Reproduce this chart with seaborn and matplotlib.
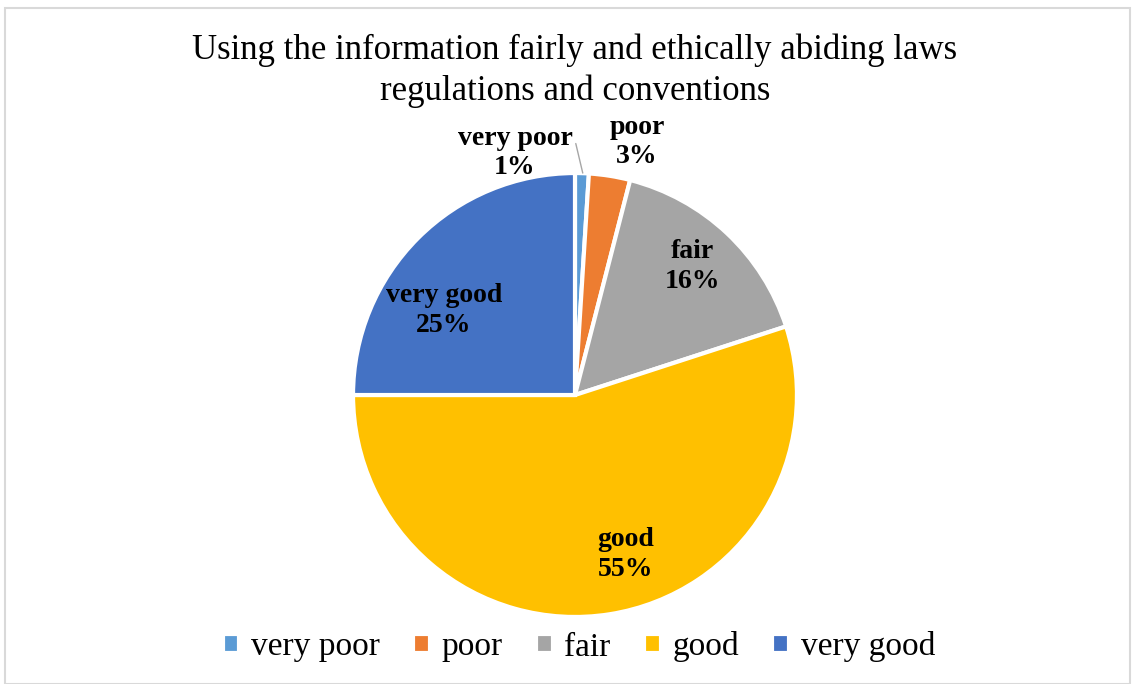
import matplotlib
matplotlib.use("Agg")
import matplotlib.pyplot as plt
import seaborn as sns
from matplotlib.patches import Rectangle

# Survey ratings
categories = ["very poor", "poor", "fair", "good", "very good"]
shares = [1, 3, 16, 55, 25]
colors = ["#5B9BD5", "#ED7D31", "#A5A5A5", "#FFC000", "#4472C4"]
title = "Using the information fairly and ethically abiding laws\nregulations and conventions"

# Where each category label sits, in pie units
label_xy = [(-0.27, 1.09), (0.28, 1.14), (0.53, 0.58), (0.23, -0.72), (-0.59, 0.38)]

sns.set_theme(style="white")
plt.rcParams["font.family"] = ["Liberation Serif", "DejaVu Serif"]
plt.rcParams["text.color"] = "black"

fig = plt.figure(figsize=(11.35, 6.84), dpi=100)
fig.patch.set_facecolor("white")
fig.add_artist(Rectangle((5 / 1135, 0.0), 1125 / 1135, 676 / 684,
                         transform=fig.transFigure, fill=False,
                         edgecolor="#d9d9d9", linewidth=1.5))

ax = fig.add_axes([0.311, 0.098, 0.3912, 0.649])
wedges, _ = ax.pie(shares, colors=colors, startangle=90, counterclock=False,
                   radius=1.0,
                   wedgeprops=dict(edgecolor="white", linewidth=3))
ax.set_xlim(-1.0, 1.0)
ax.set_ylim(-1.0, 1.0)
ax.set_aspect("equal")
ax.axis("off")

for i, (cat, val) in enumerate(zip(categories, shares)):
    x, y = label_xy[i]
    txt = f"{cat}\n{val}%"
    if i == 0:
        ax.annotate(txt, xy=(0.035, 1.0), xytext=(x, y),
                    ha="center", va="center", fontsize=20, fontweight="bold",
                    linespacing=1.25, color="black",
                    arrowprops=dict(arrowstyle="-", color="#a6a6a6", lw=1,
                                    shrinkA=0, shrinkB=0,
                                    relpos=(1.02, 0.75)),
                    annotation_clip=False)
    else:
        ax.text(x, y, txt, ha="center", va="center", fontsize=20,
                fontweight="bold", linespacing=1.25, color="black")

fig.text(0.5066, 1 - 71 / 684, title, ha="center", va="center", fontsize=25,
         linespacing=1.3, color="black")

leg = fig.legend(wedges, categories, loc="center", ncol=5, frameon=False,
                 fontsize=24, handlelength=0.5, handleheight=0.5,
                 handletextpad=0.35, columnspacing=1.0, labelcolor="black")
leg.set_bbox_to_anchor((0.51, 1 - 647 / 684), transform=fig.transFigure)

fig.savefig("out.png", dpi=100, facecolor="white")
